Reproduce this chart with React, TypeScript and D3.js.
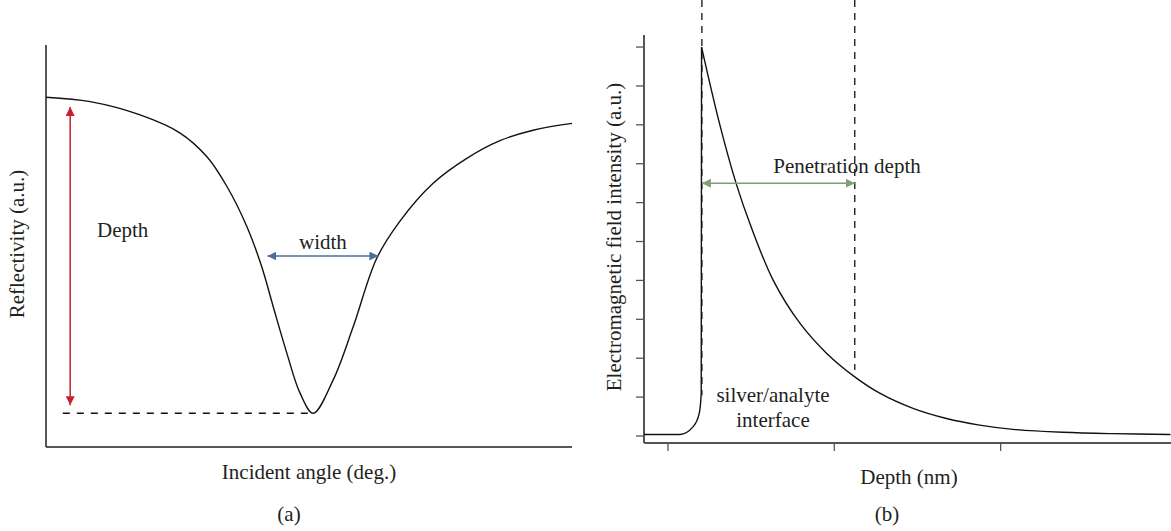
import React from 'react';
import * as d3 from 'd3';

// panel (a): reflectivity dip (angle a.u., reflectivity a.u.)
const angle = [0, 8.4, 17.9, 25.5, 30.6, 34.4, 38.2, 41.0, 43.2, 45.8, 48.3, 50.8, 54.6, 58.4, 62.9, 67.3, 73.6, 80.0, 86.3, 92.6, 100];
const reflectivity = [0.870, 0.859, 0.826, 0.781, 0.722, 0.648, 0.548, 0.449, 0.349, 0.233, 0.134, 0.084, 0.167, 0.299, 0.470, 0.562, 0.656, 0.718, 0.762, 0.788, 0.805];

// panel (b): field intensity vs depth (nm a.u.)
// rise up to the interface, then the evanescent decay
const riseDepth = [-14.4, 7.2, 15.2, 18.8, 20.0, 20.2];
const riseIntensity = [0.04, 0.04, 0.24, 0.58, 1.10, 10.0];
const decayDepth = [20.2, 31.2, 41.3, 49.2, 63.3, 79.3, 95.3, 112.3, 127.3, 147.3, 167.4, 187.4, 207.4, 237.4, 267.4, 302.1];
const decayIntensity = [10.0, 8.0, 6.45, 5.47, 4.0, 2.90, 2.13, 1.52, 1.10, 0.71, 0.45, 0.28, 0.17, 0.095, 0.06, 0.04];
const depthTicks = [0, 100, 200];
const intensityTicks = [0, 1, 2, 3, 4, 5, 6, 7, 8, 9, 10];

// annotations (data units)
const depthArrow = { x: 4.6, from: 0.104, to: 0.846 };
const dipLevel = { x0: 3.2, x1: 50.8, y: 0.084 };
const widthArrow = { x0: 42.1, x1: 63.2, y: 0.475 };
const interfaceAt = 20.4;
const penetrationAt = 112.3;
const penetrationArrowY = 6.5;

const FONT = '"Liberation Serif", "Times New Roman", serif';
const FS = 21;

function App() {
  // scales for (a)
  const xa = d3.scaleLinear().domain([0, 100]).range([46, 572]);
  const ya = d3.scaleLinear().domain([0, 1]).range([447, 45]);
  // scales for (b)
  const xb = d3.scaleLinear().domain([-14.4, 302.4]).range([644, 1171]);
  const yb = d3.scaleLinear().domain([-0.18, 10.31]).range([443, 35]);

  const lineA = d3.line<number>()
    .x((d, i) => xa(angle[i]))
    .y((d) => ya(d))
    .curve(d3.curveCatmullRom.alpha(0.5));
  const riseLine = d3.line<number>()
    .x((d, i) => xb(riseDepth[i]))
    .y((d) => yb(d))
    .curve(d3.curveMonotoneX);
  const decayLine = d3.line<number>()
    .x((d, i) => xb(decayDepth[i]))
    .y((d) => yb(d))
    .curve(d3.curveCatmullRom.alpha(0.5));

  const textStyle = { fontFamily: FONT, fontSize: FS, fill: '#231f20' };

  return (
    <div style={{ position: 'absolute', left: 0, top: 0 }}>
      <svg width={1171} height={531} style={{ display: 'block', background: 'white' }}>
        <defs>
          {[['red', '#c8202f'], ['blue', '#4f6d9f'], ['green', '#7f9f74']].map(([id, c]) => (
            <marker key={id} id={'ah-' + id} viewBox="0 0 10 10" refX="10" refY="5"
              markerWidth="9" markerHeight="9" markerUnits="userSpaceOnUse" orient="auto-start-reverse">
              <path d="M0,0 L10,5 L0,10 Z" fill={c} />
            </marker>
          ))}
        </defs>

        {/* ---------- panel (a) ---------- */}
        <g>
          <line x1={xa(0)} x2={xa(0)} y1={ya(1)} y2={ya(0)} stroke="#231f20" strokeWidth={1.5} />
          <line x1={xa(0)} x2={xa(100)} y1={ya(0)} y2={ya(0)} stroke="#231f20" strokeWidth={1.5} />
          <path d={lineA(reflectivity) || ''} fill="none" stroke="#111" strokeWidth={1.4} />
          <line x1={xa(dipLevel.x0)} x2={xa(dipLevel.x1)} y1={ya(dipLevel.y)} y2={ya(dipLevel.y)}
            stroke="#111" strokeWidth={1.3} strokeDasharray="7,7" />
          <line x1={xa(depthArrow.x)} x2={xa(depthArrow.x)} y1={ya(depthArrow.from)} y2={ya(depthArrow.to)}
            stroke="#c8202f" strokeWidth={1.5} markerStart="url(#ah-red)" markerEnd="url(#ah-red)" />
          <line x1={xa(widthArrow.x0)} x2={xa(widthArrow.x1)} y1={ya(widthArrow.y)} y2={ya(widthArrow.y)}
            stroke="#4f6d9f" strokeWidth={1.5} markerStart="url(#ah-blue)" markerEnd="url(#ah-blue)" />
          <text x={97} y={237} style={textStyle}>Depth</text>
          <text x={(xa(widthArrow.x0) + xa(widthArrow.x1)) / 2} y={249} textAnchor="middle" style={textStyle}>width</text>
          <text transform="translate(24,244) rotate(-90)" textAnchor="middle" style={textStyle}>Reflectivity (a.u.)</text>
          <text x={309} y={479} textAnchor="middle" style={textStyle}>Incident angle (deg.)</text>
          <text x={289} y={521} textAnchor="middle" style={textStyle}>(a)</text>
        </g>

        {/* ---------- panel (b) ---------- */}
        <g>
          <line x1={xb(-14.4)} x2={xb(-14.4)} y1={35} y2={yb(-0.18)} stroke="#555" strokeWidth={2} />
          <line x1={xb(-14.4)} x2={1171} y1={yb(-0.18)} y2={yb(-0.18)} stroke="#555" strokeWidth={2} />
          {intensityTicks.map((t) => (
            <line key={'yt' + t} x1={636} x2={644} y1={yb(t)} y2={yb(t)} stroke="#555" strokeWidth={1.3} />
          ))}
          {depthTicks.map((t) => (
            <line key={'xt' + t} x1={xb(t)} x2={xb(t)} y1={443} y2={451} stroke="#555" strokeWidth={1.3} />
          ))}
          <line x1={xb(interfaceAt)} x2={xb(interfaceAt)} y1={0} y2={yb(1.05)}
            stroke="#111" strokeWidth={1.3} strokeDasharray="7,6" />
          <line x1={xb(penetrationAt)} x2={xb(penetrationAt)} y1={0} y2={yb(1.7)}
            stroke="#111" strokeWidth={1.3} strokeDasharray="7,6" />
          <path d={riseLine(riseIntensity) || ''} fill="none" stroke="#111" strokeWidth={1.4} />
          <path d={decayLine(decayIntensity) || ''} fill="none" stroke="#111" strokeWidth={1.4} />
          <line x1={xb(interfaceAt)} x2={xb(penetrationAt)} y1={yb(penetrationArrowY)} y2={yb(penetrationArrowY)}
            stroke="#7f9f74" strokeWidth={1.5} markerStart="url(#ah-green)" markerEnd="url(#ah-green)" />
          <text x={847} y={173} textAnchor="middle" style={textStyle}>Penetration depth</text>
          <text x={773} y={402} textAnchor="middle" style={textStyle}>silver/analyte</text>
          <text x={773} y={427} textAnchor="middle" style={textStyle}>interface</text>
          <text transform="translate(621,237) rotate(-90)" textAnchor="middle" style={textStyle}>Electromagnetic field intensity (a.u.)</text>
          <text x={909} y={484} textAnchor="middle" style={textStyle}>Depth (nm)</text>
          <text x={887} y={521} textAnchor="middle" style={textStyle}>(b)</text>
        </g>
      </svg>
    </div>
  );
}

export default App;
